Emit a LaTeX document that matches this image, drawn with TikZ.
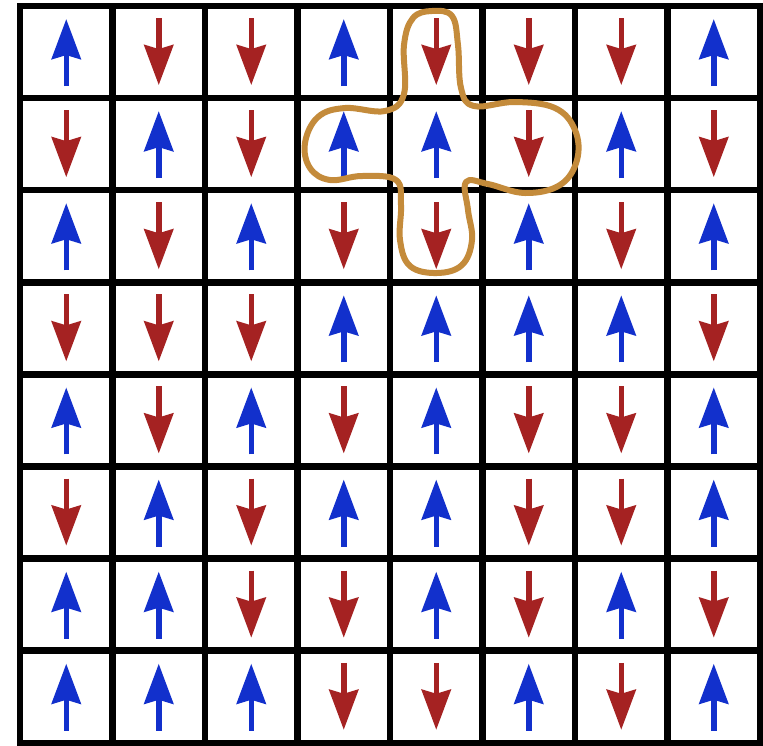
\documentclass[tikz,border=0pt]{standalone}
\usepackage{tikz}
\definecolor{spinBlue}{HTML}{1230CC}
\definecolor{spinRed}{HTML}{A52222}
\definecolor{blobOchre}{HTML}{C48B3B}
\usetikzlibrary{arrows.meta}

\begin{document}
\begin{tikzpicture}[
  x=1pt,y=-1pt,
  gridline/.style={draw=black,line width=6.5pt,line cap=rect},
  spinup/.style={draw=spinBlue,line width=5.5pt,
                 -{Stealth[length=40pt,width=29pt,inset=4pt]}},
  spindown/.style={spinup,draw=spinRed},
  blob/.style={draw=blobOchre,line width=6pt,line join=round}
]
\useasboundingbox (0,0) rectangle (763,745);
\fill[white] (0,0) rectangle (763,745);

% lattice
\foreach \i in {0,...,8} {
  \draw[gridline] ({20+92.5*\i},6) -- ({20+92.5*\i},743);
  \draw[gridline] (20,{6+92.1*\i}) -- (760,{6+92.1*\i});
}

% spins, row by row (1 = up, -1 = down)
\foreach \row [count=\r] in {
  {1,-1,-1,1,-1,-1,-1,1},
  {-1,1,-1,1,1,-1,1,-1},
  {1,-1,1,-1,-1,1,-1,1},
  {-1,-1,-1,1,1,1,1,-1},
  {1,-1,1,-1,1,-1,-1,1},
  {-1,1,-1,1,1,-1,-1,1},
  {1,1,-1,-1,1,-1,1,-1},
  {1,1,1,-1,-1,1,-1,1}} {
  \foreach \s [count=\c] in \row {
    \pgfmathsetmacro\xc{20+92.5*(\c-0.5)}
    \pgfmathsetmacro\yc{6+92.1*(\r-0.5)}
    \ifnum\s>0
      \draw[spinup] (\xc,{\yc+34}) -- (\xc,{\yc-33});
    \else
      \draw[spindown] (\xc,{\yc-34}) -- (\xc,{\yc+33});
    \fi
  }
}

% neighbourhood of the central spin
\draw[blob] plot[smooth cycle,tension=0.65] coordinates {
  (404,45) (413,18) (432,11) (452,16) (458,45) (461,88)
  (474,106) (515,102) (555,108) (575,130) (577,160) (560,185)
  (525,193) (488,184) (466,182) (468,210) (472,240) (462,265)
  (437,273) (410,266) (400,240) (401,205) (396,180) (362,176)
  (330,180) (310,168) (305,143) (318,117) (345,108) (385,111)
  (404,94)};
\end{tikzpicture}
\end{document}
